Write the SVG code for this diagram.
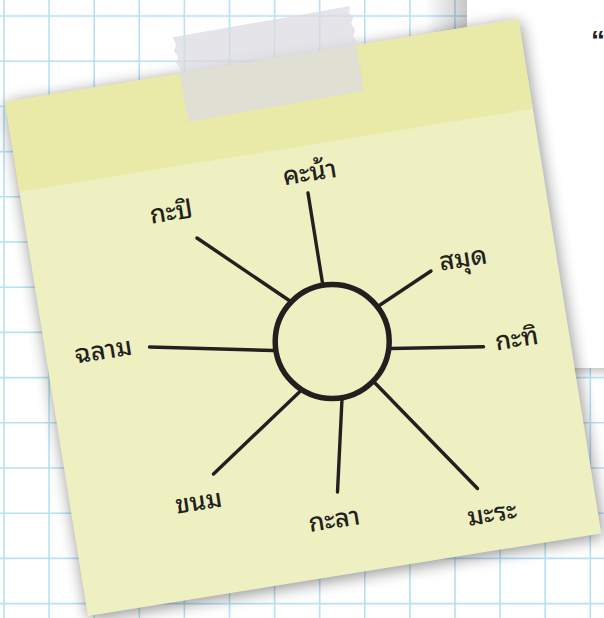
<svg xmlns="http://www.w3.org/2000/svg" width="604" height="618" viewBox="0 0 604 618">
  <defs>
    <style>
      .grid { stroke: #b6e1f6; stroke-width: 1.6; fill: none; }
      .spoke { stroke: #231f20; stroke-width: 3.4; stroke-linecap: round; fill: none; }
      .lbl { font-family: "Noto Sans Thai Looped", "Waree", "Loma", "Garuda", "Noto Sans Thai", "Noto Sans", "DejaVu Sans", sans-serif; font-size: 25.5px; font-weight: 500; fill: #231f20; text-anchor: middle; }
    </style>
    <filter id="noteShadow" x="-10%" y="-10%" width="120%" height="120%">
      <feGaussianBlur in="SourceAlpha" stdDeviation="8"/>
      <feOffset dx="1" dy="3" result="b"/>
      <feComponentTransfer><feFuncA type="linear" slope="0.45"/></feComponentTransfer>
    </filter>
    <linearGradient id="pageShadowL" x1="0" y1="0" x2="1" y2="0">
      <stop offset="0" stop-color="#000" stop-opacity="0"/>
      <stop offset="1" stop-color="#000" stop-opacity="0.22"/>
    </linearGradient>
    <linearGradient id="pageShadowB" x1="0" y1="0" x2="0" y2="1">
      <stop offset="0" stop-color="#000" stop-opacity="0.2"/>
      <stop offset="1" stop-color="#000" stop-opacity="0"/>
    </linearGradient>
  </defs>

  <!-- grid paper -->
  <rect x="0" y="0" width="604" height="618" fill="#ffffff"/>
  <path class="grid" d="M4 0V618 M49.1 0V618 M94.2 0V618 M139.3 0V618 M184.4 0V618 M229.5 0V618 M274.6 0V618 M319.7 0V618 M364.8 0V618 M409.9 0V618 M455 0V618 M500.1 0V618 M545.2 0V618 M590.3 0V618 M0 16H604 M0 61.2H604 M0 106.4H604 M0 151.6H604 M0 196.8H604 M0 242H604 M0 287.2H604 M0 332.4H604 M0 377.6H604 M0 422.8H604 M0 468H604 M0 513.2H604 M0 558.4H604 M0 603.6H604"/>

  <!-- white page on the right -->
  <rect x="425" y="0" width="42" height="368" fill="url(#pageShadowL)"/>
  <rect x="467" y="368" width="137" height="10" fill="url(#pageShadowB)"/>
  <rect x="467" y="0" width="137" height="368" fill="#ffffff"/>
  <text x="591" y="50" font-family="Liberation Sans, Arial, sans-serif" font-size="28" font-weight="bold" fill="#231f20">“</text>

  <!-- sticky note -->
  <g id="note" transform="translate(5,101.7) rotate(-9.15)">
    <rect x="0" y="0" width="520" height="521" fill="#000" filter="url(#noteShadow)"/>
    <rect x="0" y="0" width="520" height="521" fill="#eef0c1"/>
    <rect x="0" y="0" width="520" height="91" fill="#e9e9a8"/>
  </g>

  <!-- tape -->
  <g id="tape" transform="translate(172.7,37.3) rotate(-10)">
    <path d="M0 0 H180 L178 6 L181 12 L178 18 L181 24 L178 30 L181 36 L178 42 L181 48 L178 54 L181 60 L178 66 L181 72 L178 78 L180 86 H0 L2 80 L-1 74 L2 68 L-1 62 L2 56 L-1 50 L2 44 L-1 38 L2 32 L-1 26 L2 20 L-1 14 L2 8 Z" fill="#dcdbe2" fill-opacity="0.75"/>
  </g>

  <!-- connectors -->
  <g id="connectors">
    <line class="spoke" x1="308" y1="193" x2="322.5" y2="283"/>
    <line class="spoke" x1="197" y1="238" x2="288.5" y2="300"/>
    <line class="spoke" x1="149.5" y1="347" x2="273" y2="350.5"/>
    <line class="spoke" x1="380" y1="305" x2="431" y2="271"/>
    <line class="spoke" x1="391" y1="348.5" x2="483.5" y2="346.7"/>
    <line class="spoke" x1="300" y1="391.5" x2="213.5" y2="474"/>
    <line class="spoke" x1="342" y1="399" x2="337.5" y2="492"/>
    <line class="spoke" x1="375" y1="383" x2="477.5" y2="488.5"/>
  </g>

  <!-- nodes -->
  <g id="center">
    <circle cx="332.2" cy="341.5" r="57" fill="none" stroke="#231f20" stroke-width="5.5"/>
  </g>
  <g id="n-khana"><text class="lbl" x="311" y="181" transform="rotate(-9 311 181)">คะน้า</text></g>
  <g id="n-kapi"><text class="lbl" x="172.5" y="220.5" transform="rotate(-9 172.5 220.5)">กะปิ</text></g>
  <g id="n-samut"><text class="lbl" x="464.5" y="267" transform="rotate(-9 464.5 267)">สมุด</text></g>
  <g id="n-chalam"><text class="lbl" x="104.7" y="359" transform="rotate(-9 104.7 359)">ฉลาม</text></g>
  <g id="n-kathi"><text class="lbl" x="518" y="347" transform="rotate(-9 518 347)">กะทิ</text></g>
  <g id="n-khanom"><text class="lbl" x="200" y="510" transform="rotate(-9 200 510)">ขนม</text></g>
  <g id="n-kala"><text class="lbl" x="335.5" y="528" transform="rotate(-9 335.5 528)">กะลา</text></g>
  <g id="n-mara"><text class="lbl" x="493.3" y="522" transform="rotate(-9 493.3 522)">มะระ</text></g>
</svg>
